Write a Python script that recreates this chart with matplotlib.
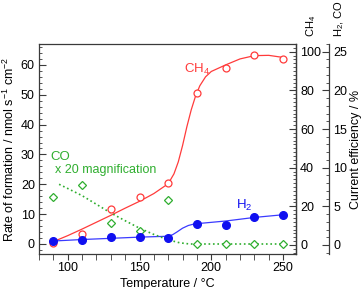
import matplotlib
matplotlib.use("Agg")
import matplotlib.pyplot as plt
from matplotlib.ticker import MultipleLocator

plt.rcParams['font.family'] = ['Liberation Sans', 'DejaVu Sans']
plt.rcParams['mathtext.fontset'] = 'custom'
plt.rcParams['mathtext.rm'] = 'Liberation Sans'
plt.rcParams['mathtext.it'] = 'Liberation Sans:italic'
plt.rcParams['mathtext.default'] = 'regular'

# ---- data ----
temps = [90, 110, 130, 150, 170, 190, 210, 230, 250]
ch4_rate = [0.5, 3.5, 11.7, 15.9, 20.6, 50.5, 59.0, 63.3, 62.1]
h2_rate = [0.9, 1.5, 2.2, 2.45, 2.0, 6.6, 6.3, 8.9, 9.7]
co_rate_x20 = [15.6, 19.6, 6.9, 4.5, 14.9, 0.0, 0.0, 0.0, 0.0]

# fitted guide curves
ch4_fit_t = [90, 100, 110, 120, 130, 140, 150, 160, 170, 174, 177, 180, 183, 186, 189, 192, 196, 200, 210, 220, 230, 240, 250]
ch4_fit_v = [0.8, 2.8, 5.0, 7.3, 9.6, 12.0, 14.3, 16.9, 20.2, 23.5, 27.5, 33.0, 39.3, 44.9, 49.5, 53.0, 56.0, 57.8, 60.0, 62.0, 63.1, 63.2, 62.5]
h2_fit_t = [90, 110, 130, 150, 170, 173, 176, 180, 184, 188, 192, 210, 230, 250]
h2_fit_v = [1.0, 1.5, 1.9, 2.3, 2.6, 3.1, 4.0, 5.3, 6.2, 6.7, 6.9, 7.7, 8.9, 9.8]
co_fit_t = [94, 100, 110, 120, 130, 140, 150, 160, 170, 178, 185, 190, 250]
co_fit_v = [20.0, 18.6, 16.2, 13.3, 10.4, 7.8, 5.3, 3.2, 1.4, 0.4, 0.0, 0.0, 0.0]

red = '#ff3b3b'
blue = '#1010f0'
green = '#2fae2f'
spine_c = '#3a3a3a'
FS = 9

fig = plt.figure(figsize=(3.62, 2.89), dpi=100)
ax = fig.add_axes([39/362, 1-254/289, (296-39)/362, (254-44)/289])

ax.plot(ch4_fit_t, ch4_fit_v, '-', color=red, lw=0.9, zorder=2)
ax.plot(h2_fit_t, h2_fit_v, '-', color='#3a3aff', lw=0.9, zorder=2)
ax.plot(co_fit_t, co_fit_v, ':', color=green, lw=1.2, zorder=2)

ax.plot(temps, ch4_rate, 'o', mfc='white', mec=red, mew=0.9, ms=5, ls='none', zorder=3)
ax.plot(temps, co_rate_x20, 'D', mfc='white', mec=green, mew=0.9, ms=4.5, ls='none', zorder=3)
ax.plot(temps, h2_rate, 'o', color=blue, ms=5.5, ls='none', zorder=4)

ax.set_xlim(80, 259)
ax.set_ylim(-3.35, 67.0)
ax.xaxis.set_major_locator(MultipleLocator(50))
ax.xaxis.set_minor_locator(MultipleLocator(10))
ax.yaxis.set_major_locator(MultipleLocator(10))
ax.yaxis.set_minor_locator(MultipleLocator(2))
ax.tick_params(axis='x', which='both', direction='out', top=False, labelsize=FS, colors=spine_c, labelcolor='black', pad=2)
ax.tick_params(axis='x', which='major', length=4)
ax.tick_params(axis='x', which='minor', length=4)
ax.tick_params(axis='y', which='both', direction='in', right=False, labelsize=FS, colors=spine_c, labelcolor='black', pad=3)
ax.tick_params(axis='y', which='major', length=5)
ax.tick_params(axis='y', which='minor', length=2.5)
for s in ax.spines.values():
    s.set_color(spine_c)
    s.set_linewidth(0.9)

ax.set_xlabel('Temperature / °C', fontsize=FS, labelpad=3)
ax.set_ylabel('Rate of formation / nmol s$^{-1}$ cm$^{-2}$', fontsize=FS, labelpad=3)

ax.text(181, 58.5, 'CH$_4$', color=red, fontsize=FS + 0.5, ha='left', va='center')
ax.text(217, 12.8, 'H$_2$', color=blue, fontsize=FS + 0.5, ha='left', va='center')
fig.text(50 / 362, 1 - 157 / 289, 'CO', color=green, fontsize=FS + 0.5, ha='left', va='center')
fig.text(55 / 362, 1 - 170 / 289, 'x 20 magnification', color=green, fontsize=FS, ha='left', va='center')

# right axes: current efficiency
ax2 = ax.twinx()
ax2.set_ylim(-4.66, 104.0)
ax2.yaxis.set_major_locator(MultipleLocator(20))
ax2.yaxis.set_minor_locator(MultipleLocator(2))
ax2.tick_params(axis='y', which='both', direction='in', labelsize=FS, colors=spine_c, labelcolor='black', pad=3)
ax2.tick_params(axis='y', which='major', length=5)
ax2.tick_params(axis='y', which='minor', length=2.5)
for s in ax2.spines.values():
    s.set_visible(False)
ax2.spines['right'].set_visible(True)
ax2.spines['right'].set_color(spine_c)
ax2.spines['right'].set_linewidth(0.9)

ax3 = ax.twinx()
ax3.spines['right'].set_position(('axes', (329 - 39) / (296 - 39)))
ax3.set_ylim(-4.66 / 4, 104.0 / 4)
ax3.yaxis.set_major_locator(MultipleLocator(5))
ax3.yaxis.set_minor_locator(MultipleLocator(1))
ax3.tick_params(axis='y', which='both', direction='in', labelsize=FS, colors=spine_c, labelcolor='black', pad=3)
ax3.tick_params(axis='y', which='major', length=5)
ax3.tick_params(axis='y', which='minor', length=2.5)
for s in ax3.spines.values():
    s.set_visible(False)
ax3.spines['right'].set_visible(True)
ax3.spines['right'].set_color(spine_c)
ax3.spines['right'].set_linewidth(0.9)
ax3.set_ylabel('Current efficiency / %', fontsize=FS, labelpad=2)

fig.text(311 / 362, 1 - 37 / 289, 'CH$_4$', rotation=90, fontsize=8, ha='center', va='bottom')
fig.text(339 / 362, 1 - 37 / 289, 'H$_2$, CO', rotation=90, fontsize=8, ha='center', va='bottom')

fig.savefig('out.png', dpi=100)
